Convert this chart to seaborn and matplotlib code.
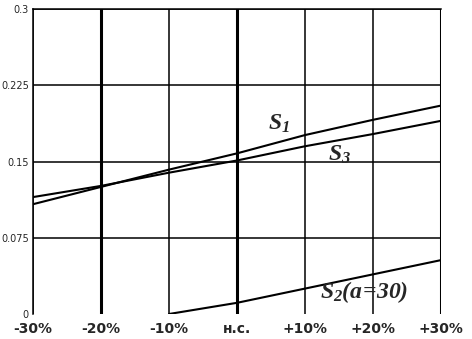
import numpy as np
import pandas as pd
import matplotlib
matplotlib.use("Agg")
import matplotlib.pyplot as plt
import seaborn as sns

# data
categories = ["-30%", "-20%", "-10%", "н.с.", "+10%", "+20%", "+30%"]
s1 = [0.108, 0.125, 0.142, 0.158, 0.176, 0.191, 0.205]
s3 = [0.115, 0.126, 0.139, 0.151, 0.165, 0.177, 0.190]
s2 = [np.nan, np.nan, 0.0, 0.011, 0.025, 0.039, 0.053]
y_ticks = [0, 0.075, 0.15, 0.225, 0.3]
y_tick_labels = ["0", "0.075", "0.15", "0.225", "0.3"]

sns.set_style("white")
plt.rcParams["font.family"] = ["DejaVu Sans"]
plt.rcParams["mathtext.fontset"] = "custom"
plt.rcParams["mathtext.it"] = "Liberation Serif:italic:bold"
plt.rcParams["mathtext.rm"] = "Liberation Serif:italic:bold"

df = pd.DataFrame({"x": range(len(categories)), "S1": s1, "S3": s3, "S2": s2})
long_df = df.melt(id_vars="x", var_name="series", value_name="value").dropna()

fig = plt.figure(figsize=(4.72, 3.39), dpi=100)
ax = fig.add_axes([33 / 472, 25 / 339, 408 / 472, 305 / 339])

# grid
for i in range(len(categories)):
    lw = 2.2 if i in (1, 3, 6) else 1.1
    ax.axvline(i, color="black", lw=lw, zorder=1)
for yv in y_ticks[1:]:
    ax.axhline(yv, color="black", lw=1.1, zorder=1)

sns.lineplot(data=long_df, x="x", y="value", units="series", estimator=None,
             color="black", lw=1.5, ax=ax, zorder=3)

ax.set_xlim(0, len(categories) - 1)
ax.set_ylim(0, 0.3)
ax.set_xticks(range(len(categories)))
ax.set_xticklabels(categories, fontsize=10, fontweight="bold")
ax.set_yticks(y_ticks)
ax.set_yticklabels(y_tick_labels, fontsize=7)
ax.tick_params(axis="both", length=0, pad=3)
ax.tick_params(axis="x", pad=6)
ax.set_xlabel("")
ax.set_ylabel("")
ax.spines["bottom"].set_visible(False)
ax.spines["right"].set_visible(False)
for s in ("left", "top"):
    ax.spines[s].set_linewidth(1.1)
    ax.spines[s].set_color("black")

ax.text(3.62, 0.188, r"$S_1$", fontsize=17, ha="center", va="center")
ax.text(4.51, 0.157, r"$S_3$", fontsize=17, ha="center", va="center")
ax.text(4.87, 0.022, r"$S_2(a\!=\!30)$", fontsize=17, ha="center", va="center")

fig.savefig("out.png", dpi=100)
